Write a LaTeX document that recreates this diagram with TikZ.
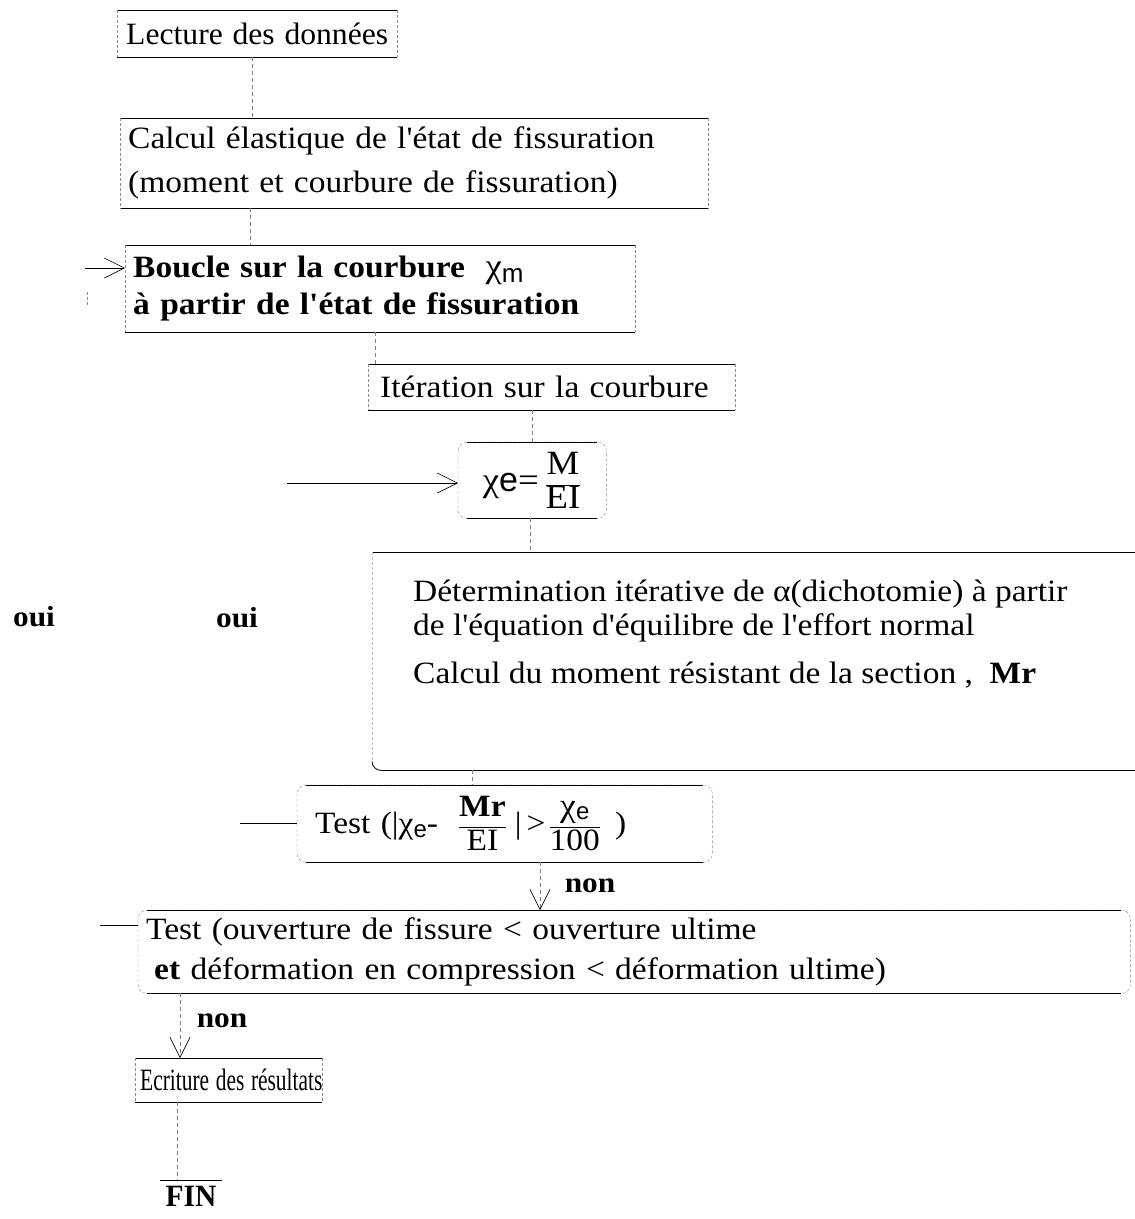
\documentclass[tikz,border=0pt]{standalone}
\usepackage{fontspec}
\setmainfont{Liberation Serif}[FakeStretch=1.08, Ligatures=TeXOff]
\setsansfont{Liberation Sans}
\usetikzlibrary{arrows.meta}
\newcommand\sqframe[1]{%
  \draw[edge] (#1.north west) -- (#1.north east);
  \draw[edge] (#1.south west) -- (#1.south east);
  \draw[side] (#1.north west) -- (#1.south west);
  \draw[side] (#1.north east) -- (#1.south east);}
\newcommand\rdframe[1]{%
  \draw[side, rounded corners=9pt] (#1.north west) rectangle (#1.south east);
  \draw[edge] ([xshift=9pt]#1.north west) -- ([xshift=-9pt]#1.north east);
  \draw[edge] ([xshift=9pt]#1.south west) -- ([xshift=-9pt]#1.south east);}
\newcommand\chiSub{χ\raisebox{-4pt}{\sffamily\fontsize{24}{24}\selectfont e}}
\begin{document}
\begin{tikzpicture}[x=1pt,y=-1pt,
  bx/.style={inner xsep=8pt, inner ysep=0pt, anchor=north west, align=left,
    font=\fontsize{31}{44}\selectfont},
  edge/.style={line width=0.8pt},
  side/.style={line width=0.4pt, black!45, dash pattern=on 3pt off 2pt},
  conn/.style={line width=0.45pt, black!50, dash pattern=on 4pt off 3pt},
  arr/.style={line width=0.6pt, -{Straight Barb[length=20pt,width=20pt,line width=0.6pt]}},
  darr/.style={conn, -{Straight Barb[length=20pt,width=20pt,line width=0.6pt,color=black]}},
  lbl/.style={font=\fontsize{29}{29}\selectfont\bfseries, inner sep=0pt},
]
\fill[white] (0,0) rectangle (1135,1219);
\useasboundingbox (0,0) rectangle (1135,1219);

% boxes
\node[bx, inner xsep=0pt, minimum width=280pt, minimum height=47pt, text width=280pt, align=center] (b1) at (117,10)
  {\scalebox{0.945}[1]{Lecture des données}};
\node[bx, minimum width=588pt, minimum height=90pt, text width=572pt] (b2) at (120,118)
  {\mbox{Calcul élastique de l'état de fissuration}\\\mbox{(moment et courbure de fissuration)}};
\node[bx, minimum width=510pt, minimum height=87pt, text width=494pt,
  font=\fontsize{31}{37}\selectfont\bfseries] (b3) at (125,245)
  {\mbox{Boucle sur la courbure\ \ \mdseries{\fontsize{34}{34}\selectfont χ}\raisebox{-5pt}{\sffamily\fontsize{26}{26}\selectfont m}}\\\mbox{à partir de l'état de fissuration}};
\node[bx, inner xsep=12pt, minimum width=367pt, minimum height=46pt, text width=343pt] (b4) at (368,364)
  {Itération sur la courbure};
\node[bx, inner xsep=0pt, minimum width=148pt, minimum height=76pt, text width=148pt, align=center,
  font=\fontsize{34}{34}\selectfont] (b5) at (458,442)
  {\mbox{χ{\sffamily e}=\,$\displaystyle\frac{\mbox{M}}{\mbox{EI}}$}};
\node[bx, inner xsep=0pt, minimum width=763pt, minimum height=218pt] (b6) at (372,552) {};
\node[anchor=north west, inner sep=0pt, align=left, font=\fontsize{31}{34}\selectfont] (b6t) at (413,580)
  {\mbox{Détermination itérative de α(dichotomie) à partir}\\
   \mbox{de l'équation d'équilibre de l'effort normal}\\[14pt]
   \mbox{Calcul du moment résistant de la section ,\ \ \textbf{Mr}}};
\node[bx, inner xsep=18pt, minimum width=415pt, minimum height=77pt, text width=379pt] (b7) at (297,785)
  {\mbox{Test (|\chiSub{}-\hspace{20pt}$\displaystyle\frac{\mbox{\bfseries Mr}}{\mbox{EI}}$\hspace{8pt}|\hspace{5pt}>\hspace{3pt}$\displaystyle\frac{\mbox{\fontsize{33}{33}\selectfont χ\raisebox{-3pt}{\sffamily\fontsize{24}{24}\selectfont e}}}{\mbox{100}}$\hspace{14pt})}};
\node[bx, minimum width=992pt, minimum height=83pt, text width=976pt,
  font=\fontsize{31}{40}\selectfont] (b8) at (138,910)
  {\mbox{Test (ouverture de fissure < ouverture ultime}\\\mbox{\hspace*{8pt}\textbf{et} déformation en compression < déformation ultime)}};
\node[bx, inner xsep=5pt, minimum width=187pt, minimum height=44pt, text width=177pt] (b9) at (135,1058)
  {\scalebox{0.64}[1]{Ecriture des résultats}};
\node[anchor=north, inner xsep=0pt, inner ysep=6pt, minimum width=62pt,
  font=\fontsize{31}{31}\selectfont\bfseries] (fin) at (191,1180) {\scalebox{0.88}[1]{FIN}};

\sqframe{b1}
\sqframe{b2}
\sqframe{b3}
\sqframe{b4}
\rdframe{b5}
\draw[edge] (b6.north west) -- (b6.north east);
\draw[edge] ([xshift=9pt]b6.south west) -- (b6.south east);
\draw[side, black!25] (b6.north west) -- ([yshift=9pt]b6.south west);
\draw[edge] ([yshift=9pt]b6.south west) to[out=-90,in=180] ([xshift=9pt]b6.south west);
\rdframe{b7}
\rdframe{b8}
\sqframe{b9}
\draw[edge] (fin.north west) -- (fin.north east);

% connectors
\coordinate (x1) at (252,0);
\coordinate (x2) at (250,0);
\coordinate (x3) at (375,0);
\coordinate (x4) at (532,0);
\coordinate (x5) at (530,0);
\coordinate (x6) at (472,0);
\coordinate (x7) at (540,0);
\coordinate (x8) at (180,0);
\coordinate (x9) at (177,0);
\draw[conn] (b1.south -| x1) -- (b2.north -| x1);
\draw[conn] (b2.south -| x2) -- (b3.north -| x2);
\draw[conn] (b3.south -| x3) -- (b4.north -| x3);
\draw[conn] (b4.south -| x4) -- (b5.north -| x4);
\draw[conn] (b5.south -| x5) -- (b6.north -| x5);
\draw[conn] (b6.south -| x6) -- (b7.north -| x6);
\draw[darr] (b7.south -| x7) -- (b8.north -| x7);
\draw[darr] (b8.south -| x8) -- (b9.north -| x8);
\draw[conn] (b9.south -| x9) -- (fin.north -| x9);

% entering arrows and loop fragments
\coordinate (in3) at (85,268);
\draw[arr] (in3) -- (in3 -| b3.west);
\coordinate (in5) at (287,483);
\draw[arr] (in5) -- (in5 -| b5.west);
\coordinate (out7) at (240,823);
\draw[line width=0.6pt] (out7) -- (out7 -| b7.west);
\coordinate (out8) at (100,925);
\draw[line width=0.6pt] (out8) -- (out8 -| b8.west);
\coordinate (t1) at (87,292);
\coordinate (t2) at (87,305);
\draw[side] (t1) -- (t2);

% labels
\node[lbl] (non1) at (590,886) {non};
\node[lbl] (non2) at (222,1021) {non};
\node[lbl] (oui1) at (34,617) {oui};
\node[lbl] (oui2) at (237,618) {oui};
\end{tikzpicture}
\end{document}
